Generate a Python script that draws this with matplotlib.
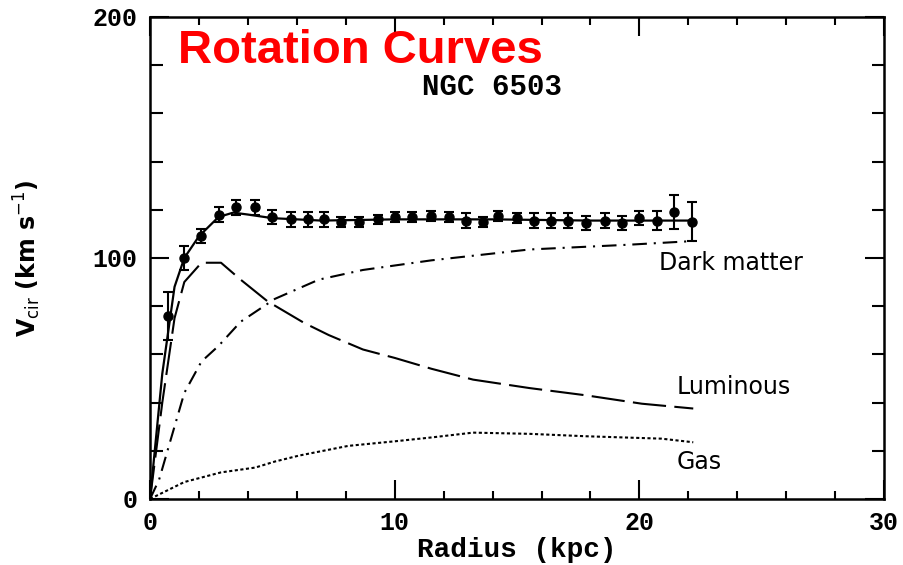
import matplotlib.pyplot as plt
import numpy as np
from matplotlib.ticker import MultipleLocator

# NGC 6503 rotation curve: observed points and model components
r_obs = [0.75, 1.4, 2.1, 2.8, 3.5, 4.3, 5.0, 5.75, 6.45, 7.1, 7.8, 8.55, 9.3,
         10.0, 10.7, 11.5, 12.2, 12.9, 13.6, 14.2, 15.0, 15.7, 16.4, 17.1,
         17.8, 18.6, 19.3, 20.0, 20.7, 21.4, 22.15]
v_obs = [76, 100, 109, 118, 121, 121, 117, 116, 116, 116, 115, 115, 116,
         117, 117, 117.5, 117, 115.5, 115, 117.5, 116.5, 115.5, 115.5, 115.5,
         114.5, 115.5, 114.5, 116.5, 115.5, 119, 115]
v_err = [10, 5, 3, 3, 3, 3, 3, 3, 3, 3, 2, 2, 2,
         2, 2, 2, 2, 3, 2, 2, 2, 3, 3, 3,
         3, 3, 3, 3, 4, 7, 8]

r_total = [0, 0.5, 1.0, 1.4, 2.0, 2.8, 3.4, 4.0, 5.0, 7.0, 10.0, 14.0, 18.0, 22.2]
v_total = [0, 52, 88, 100, 109, 117, 118.8, 118, 116.5, 115.5, 116, 116, 115.5, 115.5]

r_lum = [0, 0.5, 1.0, 1.4, 2.1, 2.9, 3.7, 4.8, 6.3, 7.3, 8.7, 10.0, 11.5,
         13.2, 15.5, 17.8, 20.1, 22.2]
v_lum = [0, 40, 75, 90, 98, 98, 91, 82, 73, 68, 62, 58.5, 54,
         49.5, 46, 43, 39.5, 37.5]

r_dark = [0, 0.37, 0.77, 1.4, 2.1, 2.8, 3.7, 5.1, 6.9, 8.7, 11.5, 15.5, 19.6, 22.2]
v_dark = [0, 8, 22, 44, 57, 63.5, 73.5, 83, 91, 95, 99, 103.5, 105.5, 107]

r_gas = [0, 1.4, 2.9, 4.3, 5.1, 6.1, 8.1, 10.1, 11.5, 13.2, 15.5, 17.8, 20.9, 22.2]
v_gas = [0, 7, 11, 13, 15.5, 18, 22, 24, 25.5, 27.5, 27, 26, 25, 23.5]

fig = plt.figure(figsize=(9.04, 5.65), dpi=100)
ax = fig.add_axes([0.166, 0.117, 0.812, 0.853])

ax.errorbar(r_obs, v_obs, yerr=v_err, fmt="o", color="black", ms=6.5,
            elinewidth=1.5, capsize=3.5, capthick=1.5)
ax.plot(r_total, v_total, color="black", lw=1.6)
ax.plot(r_lum, v_lum, color="black", lw=1.5, dashes=(16, 4))
ax.plot(r_dark, v_dark, color="black", lw=1.5, dashes=(7, 3.3, 1, 3.3))
ax.plot(r_gas, v_gas, color="black", lw=1.5, dashes=(1.5, 1.2))

ax.text(20.8, 98, "Dark matter", fontsize=17, va="center")
ax.text(21.5, 46.5, "Luminous", fontsize=17, va="center")
ax.text(21.5, 15.5, "Gas", fontsize=17, va="center")
ax.text(11.1, 167.5, "NGC 6503", fontsize=21, family="Liberation Mono",
        fontweight="bold", va="baseline")

ax.set_xlim(0, 30)
ax.set_ylim(0, 200)
ax.xaxis.set_major_locator(MultipleLocator(10))
ax.xaxis.set_minor_locator(MultipleLocator(2))
ax.yaxis.set_major_locator(MultipleLocator(100))
ax.yaxis.set_minor_locator(MultipleLocator(20))
ax.tick_params(which="both", direction="in", top=True, right=True, width=1.5)
ax.tick_params(axis="x", which="major", length=14, pad=9)
ax.tick_params(axis="x", which="minor", length=6)
ax.tick_params(axis="y", which="major", length=14, pad=9)
ax.tick_params(axis="y", which="minor", length=9)
for lab in ax.get_xticklabels() + ax.get_yticklabels():
    lab.set_family("Liberation Mono")
    lab.set_fontweight("bold")
    lab.set_fontsize(18)
for s in ax.spines.values():
    s.set_linewidth(1.8)

ax.set_xlabel("Radius (kpc)", fontsize=20, family="Liberation Mono",
              fontweight="bold", labelpad=1)
ax.set_ylabel(r"V$_{\rm cir}$ (km s$^{-1}$)", fontsize=17, fontweight="bold",
              labelpad=36)

fig.text(0.197, 0.888, "Rotation Curves", color="red", fontsize=34,
         fontweight="bold", family="Liberation Sans", va="baseline")

fig.savefig("out.png", dpi=100)
